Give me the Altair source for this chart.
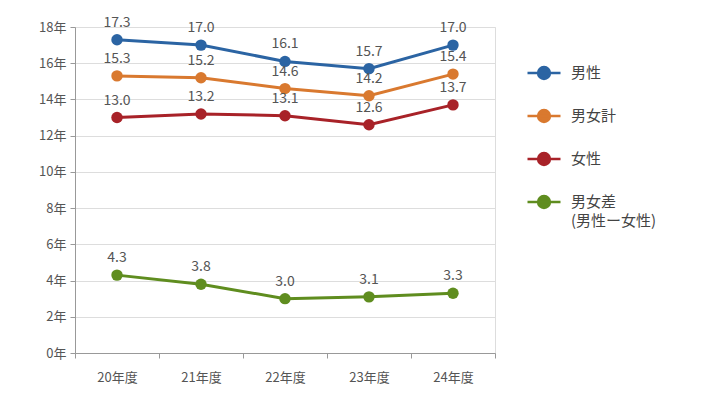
import altair as alt
import pandas as pd

years = ['20年度', '21年度', '22年度', '23年度', '24年度']
series = ['男性', '男女計', '女性', '男女差(男性ー女性)']
colors = ['#2b64a3', '#d9792f', '#a82228', '#5f8d1f']

male = [17.3, 17.0, 16.1, 15.7, 17.0]
total = [15.3, 15.2, 14.6, 14.2, 15.4]
female = [13.0, 13.2, 13.1, 12.6, 13.7]
diff = [4.3, 3.8, 3.0, 3.1, 3.3]

rows = []
for name, vals in zip(series, [male, total, female, diff]):
    for y, v in zip(years, vals):
        rows.append({'年度': y, '系列': name, '年数': v})
data = pd.DataFrame(rows)

FONT = 'Noto Sans CJK JP'

base = alt.Chart(data).encode(
    x=alt.X('年度:N', sort=years, title=None,
            scale=alt.Scale(paddingInner=0, paddingOuter=0),
            axis=alt.Axis(labelAngle=0, labelFontSize=13, labelColor='#555555',
                          labelPadding=13, domainColor='#999999', tickColor='#999999',
                          tickBand='extent', grid=False)),
    y=alt.Y('年数:Q', title=None,
            scale=alt.Scale(domain=[0, 18], nice=False),
            axis=alt.Axis(values=list(range(0, 19, 2)), labelExpr="datum.value + '年'",
                          labelFontSize=13, labelColor='#555555', labelPadding=4,
                          domainColor='#999999', tickColor='#999999', tickSize=5,
                          gridColor='#dddddd')),
    color=alt.Color('系列:N',
                    scale=alt.Scale(domain=series, range=colors),
                    legend=alt.Legend(
                        title=None,
                        orient='none',
                        legendX=451,
                        legendY=28,
                        symbolType='M-1,0L1,0M-0.36,0A0.36,0.36,0,1,0,0.36,0A0.36,0.36,0,1,0,-0.36,0Z',
                        symbolSize=1089,
                        symbolStrokeWidth=2.5,
                        labelFontSize=15,
                        labelColor='#444444',
                        labelFont=FONT,
                        labelLimit=0,
                        labelOffset=9,
                        rowPadding=14,
                        labelExpr="datum.label == '男女差(男性ー女性)' ? ['男女差', '(男性ー女性)'] : datum.label"
                    ))
)

lines = base.mark_line(strokeWidth=3).encode(order=alt.value(0))
points = base.mark_circle(size=130, opacity=1)
labels = base.mark_text(dy=-17, fontSize=14, color='#555555', font=FONT).encode(
    text=alt.Text('年数:Q', format='.1f'),
    color=alt.value('#555555')
)

chart = alt.layer(lines, points, labels).properties(
    width=420,
    height=326,
    autosize=alt.AutoSizeParams(type='none'),
    padding={'left': 67, 'top': 19, 'right': 217, 'bottom': 44},
    background='white'
).configure_view(
    stroke=None
).configure(
    font=FONT,
    style={'guide-label': {'lineHeight': 19}}
)

chart.save("out.html", embed_options={"renderer": "svg", "actions": False})
